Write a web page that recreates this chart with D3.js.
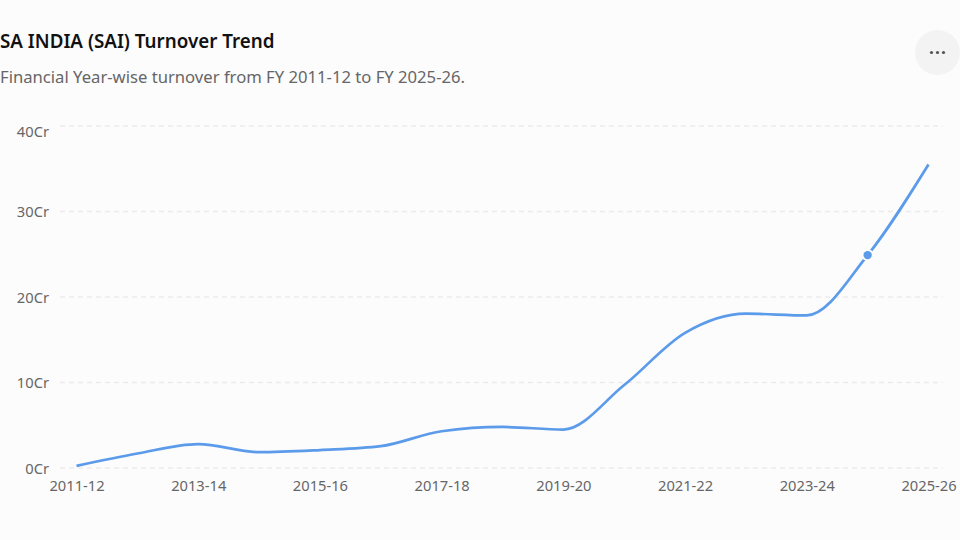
<!DOCTYPE html>
<html>
<head>
<meta charset="utf-8">
<script src="https://cdn.jsdelivr.net/npm/d3@7"></script>
<style>
  html, body { margin: 0; padding: 0; background: #fcfcfd; }
  text { font-family: "Noto Sans", sans-serif; }
</style>
</head>
<body>
<svg id="chart" width="960" height="540"></svg>
<script>
var years = ["2011-12", "2012-13", "2013-14", "2014-15", "2015-16", "2016-17", "2017-18", "2018-19",
	"2019-20", "2020-21", "2021-22", "2022-23", "2023-24", "2024-25", "2025-26"];
var turnover = [0.25, 1.7, 2.8, 1.85, 2.1, 2.55, 4.3, 4.8, 4.5, 9.7, 15.8, 18.05, 17.85, 24.9, 35.5];
var yTicks = [0, 10, 20, 30, 40];
var activeYear = "2024-25";

var svg = d3.select("#chart"),
	margin = {top: 126, left: 60, bottom: 72, right: 17},
	width = +svg.attr("width"),
	height = +svg.attr("height");

var x = d3.scalePoint()
	.domain(years)
	.range([76.5, 928.5]);

var y = d3.scaleLinear()
	.domain([0, 40])
	.range([height - margin.bottom, margin.top]);

// grid
svg.append("g")
	.selectAll("line")
	.data(yTicks)
	.join("line")
	.attr("x1", margin.left)
	.attr("x2", width - margin.right)
	.attr("y1", d => y(d))
	.attr("y2", d => y(d))
	.attr("stroke", "#ebebed")
	.attr("stroke-width", 1.5)
	.attr("stroke-dasharray", "5 4");

var yAxis = svg.append("g")
	.attr("transform", `translate(${margin.left},0)`)
	.call(d3.axisLeft(y).tickValues(yTicks).tickSize(0).tickPadding(11).tickFormat(d => d + "Cr"));

var xAxis = svg.append("g")
	.attr("transform", `translate(0,${height - margin.bottom})`)
	.call(d3.axisBottom(x).tickValues(years.filter((d, i) => i % 2 == 0)).tickSize(0).tickPadding(10));

svg.selectAll(".domain").remove();
svg.selectAll(".tick text")
	.attr("fill", "#666")
	.style("font-size", "14.7px")
	.style("font-family", '"Noto Sans", sans-serif');

// the top label is pushed inside the plot
yAxis.selectAll(".tick text").attr("y", d => d == 40 ? 6 : d == 0 ? 1 : 0.3);
xAxis.selectAll(".tick text").attr("y", 13);

var line = d3.line()
	.x((d, i) => x(years[i]))
	.y(d => y(d))
	.curve(d3.curveMonotoneX);

svg.append("path")
	.datum(turnover)
	.attr("fill", "none")
	.attr("stroke", "#5b9bea")
	.attr("stroke-width", 2.7)
	.attr("d", line);

// hovered point
svg.append("circle")
	.attr("cx", x(activeYear))
	.attr("cy", y(turnover[years.indexOf(activeYear)]))
	.attr("r", 6)
	.attr("fill", "#fcfcfd");
svg.append("circle")
	.attr("cx", x(activeYear))
	.attr("cy", y(turnover[years.indexOf(activeYear)]))
	.attr("r", 4.2)
	.attr("fill", "#5b9bea");

svg.append("text")
	.attr("x", 0)
	.attr("y", 47.5)
	.attr("fill", "#111")
	.style("font-size", "18.8px")
	.style("font-weight", 600)
	.text("SA INDIA (SAI) Turnover Trend");

svg.append("text")
	.attr("x", 0)
	.attr("y", 83)
	.attr("fill", "#666")
	.style("font-size", "16.65px")
	.text("Financial Year-wise turnover from FY 2011-12 to FY 2025-26.");

// menu button
var menu = svg.append("g").attr("transform", "translate(937.5,52.5)");
menu.append("circle")
	.attr("r", 22.5)
	.attr("fill", "#f3f3f3");
menu.selectAll(".dot")
	.data([-6, 0, 6])
	.join("circle")
	.attr("class", "dot")
	.attr("cx", d => d)
	.attr("r", 1.6)
	.attr("fill", "#555");
</script>
</body>
</html>
